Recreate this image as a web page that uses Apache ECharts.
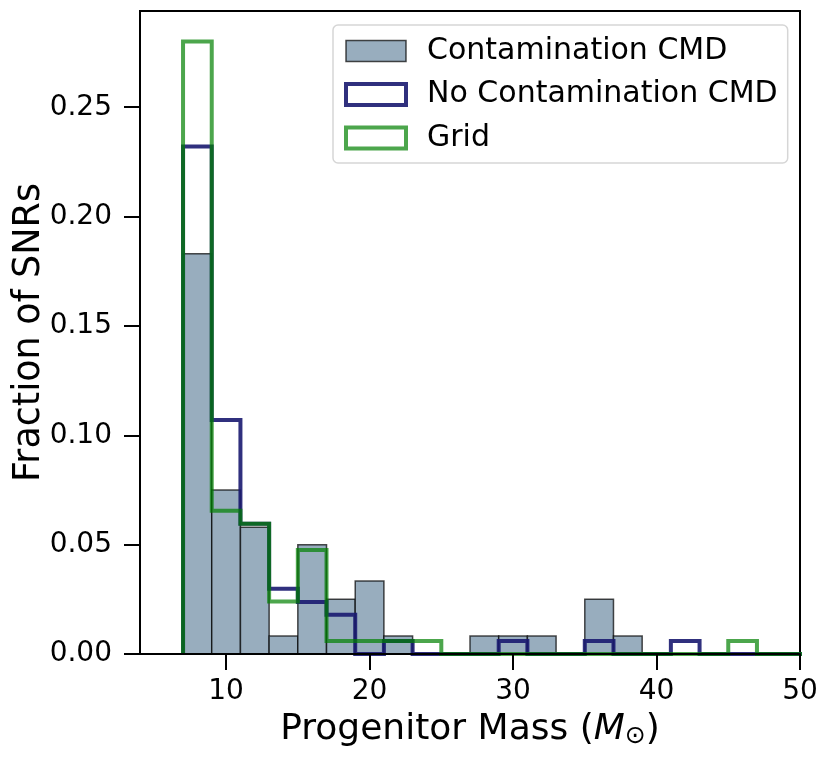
<!DOCTYPE html>
<html>
<head>
<meta charset="utf-8">
<script src="https://cdn.jsdelivr.net/npm/echarts@6/dist/echarts.min.js"></script>
<style>
html,body{margin:0;padding:0;background:#fff;}
#chart{width:830px;height:758px;}
</style>
</head>
<body>
<div id="chart"></div>
<script>
// Bin lower edges (bin width 2 Msun)
const binLow = [7, 9, 11, 13, 15, 17, 19, 21, 23, 25, 27, 29, 31, 33, 35, 37, 39, 41, 43, 45, 47, 49];
const binWidth = 2;
// Fraction of SNRs per bin
const contamCMD   = [0.183, 0.075, 0.058, 0.0082, 0.050, 0.025, 0.0334, 0.0082, 0, 0, 0.0082, 0.0082, 0.0082, 0, 0.025, 0.0082, 0, 0, 0, 0, 0, 0];
const noContamCMD = [0.232, 0.107, 0.0595, 0.0298, 0.0238, 0.0179, 0, 0.006, 0, 0, 0, 0.006, 0, 0, 0.006, 0, 0, 0.006, 0, 0, 0, 0];
const gridVals    = [0.280, 0.0655, 0.0595, 0.024, 0.0476, 0.006, 0.006, 0.006, 0.006, 0, 0, 0, 0, 0, 0, 0, 0, 0, 0, 0.006, 0, 0];
const xTicks = [10, 20, 30, 40, 50];
const yTicks = [0, 0.05, 0.10, 0.15, 0.20, 0.25];

const FONT = 'DejaVu Sans';
const grayFill = '#98adbe';
const grayEdge = 'rgba(0,0,0,0.7)';
const navy = 'rgba(25,25,112,0.9)';
const green = 'rgba(0,128,0,0.7)';

function stepPoints(vals) {
  const pts = [[binLow[0], 0]];
  vals.forEach((v, i) => {
    pts.push([binLow[i], v]);
    pts.push([binLow[i] + binWidth, v]);
  });
  pts.push([binLow[binLow.length - 1] + binWidth, 0]);
  return pts;
}

const barData = [];
contamCMD.forEach((v, i) => { if (v > 0) barData.push([binLow[i], binLow[i] + binWidth, v]); });

const chart = echarts.init(document.getElementById('chart'), null, {renderer: 'canvas'});
chart.setOption({
  backgroundColor: '#fff',
  animation: false,
  textStyle: {fontFamily: FONT},
  grid: {left: 140, right: 30, top: 11, bottom: 104, containLabel: false, outerBoundsMode: 'none',
    show: true, borderColor: '#000', borderWidth: 2, backgroundColor: '#fff'},
  xAxis: {
    type: 'value', min: 4, max: 50, z: 10,
    name: '{t|Progenitor Mass (}{i|M}{s|⊙}{t|)}',
    nameLocation: 'middle', nameGap: 56, nameMoveOverlap: false,
    nameTextStyle: {
      rich: {
        t: {fontFamily: FONT, fontSize: 36, color: '#000'},
        i: {fontFamily: FONT, fontSize: 36, fontStyle: 'italic', color: '#000'},
        s: {fontFamily: FONT, fontSize: 25, color: '#000', verticalAlign: 'bottom', padding: [14, 0, 0, 0]}
      }
    },
    axisLine: {show: true, lineStyle: {color: '#000', width: 2}},
    axisTick: {show: true, length: 16, lineStyle: {color: '#000', width: 2}, customValues: xTicks},
    axisLabel: {fontFamily: FONT, fontSize: 28, color: '#000', margin: 24, customValues: xTicks},
    splitLine: {show: false}
  },
  yAxis: {
    type: 'value', min: 0, max: 0.294, z: 10,
    name: 'Fraction of SNRs', nameLocation: 'middle', nameGap: 92, nameRotate: 90, nameMoveOverlap: false,
    nameTextStyle: {fontFamily: FONT, fontSize: 36.5, color: '#000'},
    axisLine: {show: true, lineStyle: {color: '#000', width: 2}},
    axisTick: {show: true, length: 16, lineStyle: {color: '#000', width: 2}, customValues: yTicks},
    axisLabel: {fontFamily: FONT, fontSize: 28, color: '#000', margin: 28, customValues: yTicks,
      formatter: v => v.toFixed(2)},
    splitLine: {show: false}
  },
  legend: {
    orient: 'vertical', left: 333, top: 25,
    padding: [11, 10, 10, 11],
    itemWidth: 60, itemHeight: 21, itemGap: 13.5,
    backgroundColor: '#fff', borderColor: '#d6d6d6', borderWidth: 1.5, borderRadius: 5,
    textStyle: {fontFamily: FONT, fontSize: 30, color: '#000', lineHeight: 21, padding: [0, 0, 0, 16]},
    selectedMode: false,
    data: [
      {name: 'Contamination CMD', icon: 'rect', itemStyle: {color: grayFill, borderColor: grayEdge, borderWidth: 1.5}},
      {name: 'No Contamination CMD', icon: 'rect', itemStyle: {color: '#fff', borderColor: navy, borderWidth: 4}, lineStyle: {width: 0, opacity: 0}},
      {name: 'Grid', icon: 'rect', itemStyle: {color: '#fff', borderColor: green, borderWidth: 4}, lineStyle: {width: 0, opacity: 0}}
    ]
  },
  series: [
    {
      name: 'Contamination CMD', type: 'custom', z: 2,
      data: barData,
      encode: {x: [0, 1], y: 2},
      renderItem: function (params, api) {
        const p0 = api.coord([api.value(0), api.value(2)]);
        const p1 = api.coord([api.value(1), 0]);
        return {type: 'rect', shape: {x: p0[0], y: p0[1], width: p1[0] - p0[0], height: p1[1] - p0[1]},
          style: {fill: grayFill, stroke: grayEdge, lineWidth: 1.5}};
      },
      clip: true
    },
    {
      name: 'No Contamination CMD', type: 'line', z: 3, symbol: 'none', clip: true,
      data: stepPoints(noContamCMD),
      itemStyle: {color: navy},
      lineStyle: {color: navy, width: 4, join: 'miter'}
    },
    {
      name: 'Grid', type: 'line', z: 4, symbol: 'none', clip: true,
      data: stepPoints(gridVals),
      itemStyle: {color: green},
      lineStyle: {color: green, width: 4, join: 'miter'}
    }
  ]
});
</script>
</body>
</html>
